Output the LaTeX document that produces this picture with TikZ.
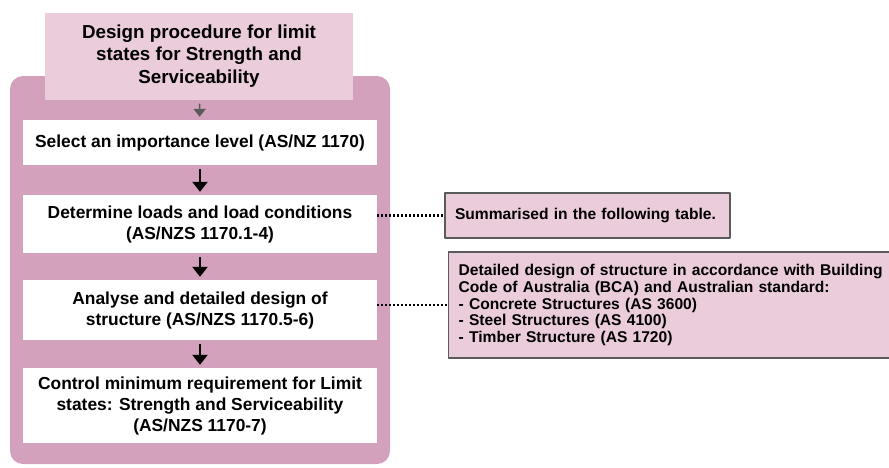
\documentclass[tikz,border=0pt]{standalone}
\usepackage{fontspec}
\setmainfont{Liberation Sans}
\usetikzlibrary{arrows.meta}
\definecolor{mauve}{HTML}{D4A1BD}
\definecolor{pinkbox}{HTML}{EACCDB}
\definecolor{edgegray}{HTML}{5A5A5A}
\begin{document}
\begin{tikzpicture}[x=1pt,y=-1pt,line join=round,
    font=\fontsize{17.4}{21}\selectfont\bfseries,
    stepbox/.style={fill=white,minimum width=354pt,inner sep=0pt,align=center},
    notebox/.style={fill=pinkbox,draw=edgegray,line width=1.4pt,inner xsep=10pt,
        font=\fontsize{15.6}{16.8}\selectfont\bfseries},
    flow/.style={-{Triangle[length=10pt,width=15pt]},line width=2.4pt,shorten <=4pt,shorten >=3pt},
    link/.style={line width=2.4pt,dash pattern=on 2pt off 2pt}]
    \useasboundingbox (0,0) rectangle (889,467);
    % outer frame
    \fill[mauve,rounded corners=13pt] (10,76) rectangle (390,464);
    \node[fill=pinkbox,minimum width=308pt,minimum height=87pt,inner sep=0pt,align=center,
        font=\fontsize{18.8}{22.8}\selectfont\bfseries] (title) at (199,56)
        {Design procedure for limit\\states for Strength and\\Serviceability};
    % steps
    \node[stepbox,minimum height=45pt] (b1) at (200,142.5) {Select an importance level (AS/NZ 1170)};
    \node[stepbox,minimum height=58pt] (b2) at (200,224) {Determine loads and load conditions\\(AS/NZS 1170.1-4)};
    \node[stepbox,minimum height=60pt] (b3) at (200,310) {Analyse and detailed design of\\structure (AS/NZS 1170.5-6)};
    \node[stepbox,minimum height=75pt] (b4) at (200,405.5) {Control minimum requirement for Limit\\states: Strength and Serviceability\\(AS/NZS 1170-7)};
    % notes
    \node[notebox,minimum width=285pt,minimum height=45pt,align=left,text width=265pt] (summ) at (587.5,215.5)
        {Summarised in the following table.};
    \node[notebox,minimum height=106pt,text width=460pt,align=left,anchor=west] (detail) at (448,305)
        {Detailed design of structure in accordance with Building\\Code of Australia (BCA) and Australian standard:\\- Concrete Structures (AS 3600)\\- Steel Structures (AS 4100)\\- Timber Structure (AS 1720)};
    % arrows
    \draw[flow,line width=1.6pt,edgegray,-{Triangle[length=8pt,width=12pt]}] (title) -- (b1);
    \foreach \i/\j in {b1/b2,b2/b3,b3/b4}
        \draw[flow] (\i) -- (\j);
    \draw[link] (b2.east |- summ.west) -- (summ.west);
    \draw[link] (b3.east |- detail.west) -- (detail.west);
\end{tikzpicture}
\end{document}
